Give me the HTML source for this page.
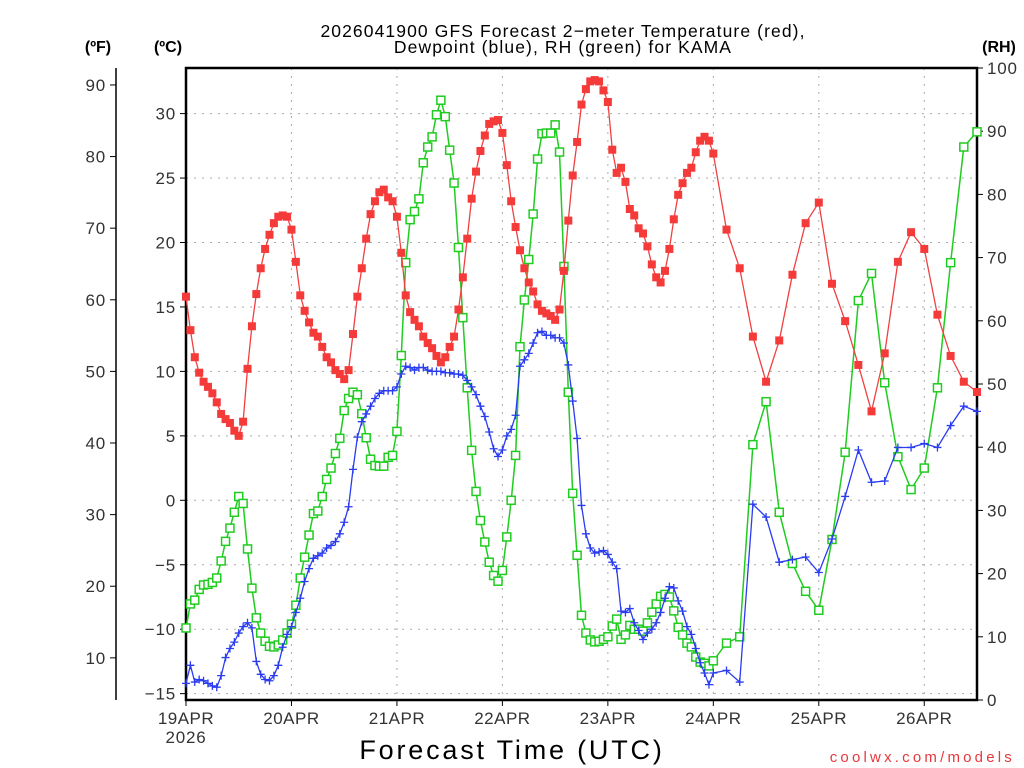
<!DOCTYPE html>
<html><head><meta charset="utf-8">
<style>
html,body{margin:0;padding:0;background:#fff;}
svg{display:block;font-family:"Liberation Sans",sans-serif;}
</style></head>
<body>
<svg id="chart" width="1024" height="768" viewBox="0 0 1024 768" xmlns="http://www.w3.org/2000/svg">
<rect x="0" y="0" width="1024" height="768" fill="#fff"/>
<g id="grid"></g>
<g id="axes"></g>
<g id="series"></g>
<text x="563" y="37" text-anchor="middle" font-size="17.5" letter-spacing="1.1" fill="#000">2026041900 GFS Forecast 2−meter Temperature (red),</text>
<text x="563" y="53" text-anchor="middle" font-size="17.5" letter-spacing="1.1" fill="#000">Dewpoint (blue), RH (green) for KAMA</text>
<text x="98" y="52" text-anchor="middle" font-size="16" font-weight="bold">(ºF)</text>
<text x="168" y="52" text-anchor="middle" font-size="16" font-weight="bold">(ºC)</text>
<text x="999" y="52" text-anchor="middle" font-size="16" font-weight="bold">(RH)</text>
<text x="512" y="759" text-anchor="middle" font-size="27" letter-spacing="2.8" fill="#000">Forecast Time (UTC)</text>
<text x="1015" y="762" text-anchor="end" font-size="15" letter-spacing="3.2" fill="#e8383d">coolwx.com/models</text>
</svg>
<script>
// ---- data ----
const tempC = [15.8,13.2,11.1,9.9,9.2,8.8,8.3,7.6,6.7,6.3,6.0,5.4,5.0,6.1,10.2,13.5,16.0,18.0,19.5,20.6,21.5,22.0,22.1,22.0,21.0,18.5,15.9,14.7,13.8,13.0,12.7,11.9,11.1,10.7,10.1,9.8,9.4,10.1,12.9,15.8,18.0,20.3,22.2,23.2,23.9,24.1,23.5,23.2,22.0,19.2,15.9,14.6,
14.0,13.5,12.7,12.2,11.8,11.2,10.7,11.1,11.9,12.7,14.8,17.3,20.3,23.4,25.5,27.1,28.3,29.2,29.4,29.5,28.5,26.0,23.2,21.2,19.4,18.0,16.9,16.2,15.2,14.7,14.5,14.3,14.0,14.8,17.8,
21.7,25.2,27.8,30.7,31.9,32.5,32.6,32.5,31.8,30.9,27.2,25.4,25.8,24.7,22.6,22.1,21.1,20.7,19.7,18.3,17.3,16.9,17.8,19.5,21.8,23.7,24.6,25.4,25.8,27.0,27.9,28.2,27.9,26.9,
21.0,18.0,12.7,9.2,12.4,17.5,21.5,23.1,16.8,13.9,10.5,6.9,11.4,18.5,20.8,19.5,14.4,11.2,9.2,8.4];
const dewC = [-14.2,-12.8,-14.1,-13.9,-14.0,-14.2,-14.4,-14.5,-13.6,-12.2,-11.5,-11.0,-10.3,-9.8,-9.5,-9.9,-12.5,-13.5,-13.9,-14.0,-13.6,-12.8,-11.4,-10.4,-9.8,-8.7,-7.6,-6.3,-5.3,-4.5,-4.3,-4.1,-3.7,-3.5,-3.2,-2.6,-1.7,-0.5,2.4,4.9,6.1,6.7,7.3,7.9,8.3,8.5,8.5,8.5,8.8,
9.8,10.4,10.3,10.1,10.3,10.3,10.1,10.0,10.0,10.0,9.9,9.9,9.8,9.8,9.7,9.3,8.8,8.2,7.3,6.5,5.3,4.0,3.4,3.9,5.0,5.5,6.6,10.4,10.9,11.4,12.2,13.0,13.1,12.8,12.8,12.6,12.6,12.2,
10.5,7.7,4.8,-0.4,-2.6,-3.7,-4.1,-4.0,-3.9,-4.2,-4.8,-5.3,-8.6,-8.7,-8.4,-9.5,-10.1,-10.8,-10.3,-10.0,-9.5,-8.7,-7.6,-6.7,-6.8,-7.8,-8.6,-9.8,-10.4,-11.5,-12.6,-13.4,-14.3,-13.4,
-13.2,-14.1,-0.3,-1.3,-4.8,-4.6,-4.4,-5.6,-3.0,0.3,3.9,1.4,1.5,4.1,4.1,4.4,4.1,5.8,7.3,6.9];
const rhPct = [11.4,15.2,15.8,17.5,18.2,18.3,18.6,19.3,22.0,25.1,27.2,29.7,32.2,31.1,23.9,17.7,13.0,10.6,9.3,8.5,8.4,8.7,9.5,10.6,12.0,15.0,19.3,22.6,26.1,29.5,29.9,32.2,34.9,36.7,39.0,41.4,45.8,47.7,48.7,48.3,45.3,41.5,38.1,37.1,37.0,37.0,38.4,38.7,42.5,54.5,69.2,76.0,
77.3,79.3,85.0,87.5,89.1,92.6,94.9,92.3,87.0,81.8,71.6,60.5,49.4,39.5,33.0,28.4,25.0,21.8,19.7,18.8,20.5,25.8,31.6,38.7,55.9,63.3,69.7,76.9,85.6,89.6,89.7,89.7,91.0,86.7,68.6,
48.7,32.7,22.9,13.4,10.6,9.5,9.2,9.3,9.6,10.0,11.7,12.8,9.6,10.3,11.8,11.2,11.2,10.9,12.2,13.9,15.2,16.4,16.7,16.3,14.1,11.5,10.3,9.0,8.4,6.8,6.0,5.8,5.4,6.2,
9.0,10.0,40.4,47.2,29.7,21.6,17.2,14.2,25.4,39.2,63.2,67.5,50.2,38.5,33.3,36.7,49.4,69.2,87.5,89.9];
const dayLabels = ["19APR","20APR","21APR","22APR","23APR","24APR","25APR","26APR"];
const celsiusTicks = [30,25,20,15,10,5,0,-5,-10,-15];
const fahrenheitTicks = [90,80,70,60,50,40,30,20,10];
const rhTicks = [100,90,80,70,60,50,40,30,20,10,0];
// forecast hours: hourly to 120h, then 3-hourly to 180h
const hours = [];
for (let h = 0; h <= 120; h++) hours.push(h);
for (let h = 123; h <= 180; h += 3) hours.push(h);

// ---- scales ----
const L = 186, R = 977, T = 68, B = 700;
const xS = h => L + (h / 180) * (R - L);
const yC = c => 500.3 - 12.89 * c;
const yF = f => yC((f - 32) * 5 / 9);
const yRH = r => B - (r / 100) * (B - T);
const NS = "http://www.w3.org/2000/svg";
function mk(tag, attrs, parent) {
  const e = document.createElementNS(NS, tag);
  for (const k in attrs) e.setAttribute(k, attrs[k]);
  parent.appendChild(e); return e;
}
const grid = document.getElementById('grid');
const axes = document.getElementById('axes');
const series = document.getElementById('series');

celsiusTicks.forEach(c => {
  const y = yC(c);
  const g = mk('line', {x1: L, x2: R, y1: y, y2: y, stroke: '#aaa', 'stroke-width': 1, 'stroke-dasharray': '2,6'}, grid);
  
  
  const t = mk('line', {x1: L - 6, x2: L, y1: y, y2: y, stroke: '#000', 'stroke-width': 1}, axes);
  
  
  const lb = mk('text', {x: L - 10, y: y + 6, 'text-anchor': 'end', 'font-size': 17, 'letter-spacing': 0.8, fill: '#333'}, axes);
  lb.textContent = (c < 0 ? '\u2212' : '') + Math.abs(c);
  
  
});
dayLabels.forEach((d, i) => {
  const x = xS(i * 24);
  if (i > 0) {
    const g = mk('line', {x1: x, x2: x, y1: T, y2: B, stroke: '#aaa', 'stroke-width': 1, 'stroke-dasharray': '2,6'}, grid);
    
    
  }
  const t = mk('line', {x1: x, x2: x, y1: B, y2: B + 6, stroke: '#000', 'stroke-width': 1}, axes);
  
  
  const lb = mk('text', {x: x, y: 724, 'text-anchor': 'middle', 'font-size': 17, 'letter-spacing': 0.5, fill: '#333'}, axes);
  lb.textContent = d;
  
  
});
const yr = mk('text', {x: xS(0), y: 743, 'text-anchor': 'middle', 'font-size': 17, 'letter-spacing': 0.8, fill: '#333'}, axes);
yr.textContent = '2026';



const fa = mk('line', {x1: 116, x2: 116, y1: T, y2: B, stroke: '#000', 'stroke-width': 1.5}, axes);


fahrenheitTicks.forEach(f => {
  const y = yF(f);
  const t = mk('line', {x1: 110, x2: 116, y1: y, y2: y, stroke: '#000', 'stroke-width': 1}, axes);
  
  
  const lb = mk('text', {x: 106, y: y + 6, 'text-anchor': 'end', 'font-size': 17, 'letter-spacing': 0.8, fill: '#333'}, axes);
  lb.textContent = f;
  
  
});
rhTicks.forEach(r => {
  const y = yRH(r);
  const t = mk('line', {x1: R, x2: R + 6, y1: y, y2: y, stroke: '#000', 'stroke-width': 1}, axes);
  
  
  const lb = mk('text', {x: R + 10, y: y + 6, 'text-anchor': 'start', 'font-size': 17, 'letter-spacing': 0.8, fill: '#333'}, axes);
  lb.textContent = r;
  
  
});
const fr = mk('rect', {x: L, y: T, width: R - L, height: B - T, fill: 'none', stroke: '#000', 'stroke-width': 2.5}, axes);



function linePts(vals, yf) { return vals.map((v, i) => xS(hours[i]).toFixed(1) + ',' + yf(v).toFixed(1)).join(' '); }
const gRH = mk('g', {}, series);


const rl = mk('polyline', {points: linePts(rhPct, yRH), fill: 'none', stroke: '#1fcc1f', 'stroke-width': 1.5}, gRH);


rhPct.forEach((v, i) => {
  const m = mk('rect', {x: xS(hours[i]) - 4, y: yRH(v) - 4, width: 8, height: 8, fill: '#fff', stroke: '#1fcc1f', 'stroke-width': 1.5}, gRH);
  
  
});
const gD = mk('g', {}, series);


const dl = mk('polyline', {points: linePts(dewC, yC), fill: 'none', stroke: '#2a3cf0', 'stroke-width': 1.3}, gD);


dewC.forEach((v, i) => {
  const x = xS(hours[i]), y = yC(v);
  const m = mk('path', {d: `M${x-4},${y}H${x+4}M${x},${y-4}V${y+4}`, stroke: '#2a3cf0', 'stroke-width': 1.3, fill: 'none'}, gD);
  
  
});
const gT = mk('g', {}, series);


const tl = mk('polyline', {points: linePts(tempC, yC), fill: 'none', stroke: '#f04040', 'stroke-width': 1.3}, gT);


tempC.forEach((v, i) => {
  const m = mk('rect', {x: xS(hours[i]) - 4, y: yC(v) - 4, width: 8, height: 8, fill: '#f53a3a'}, gT);
  
  
});
</script>
</body></html>
